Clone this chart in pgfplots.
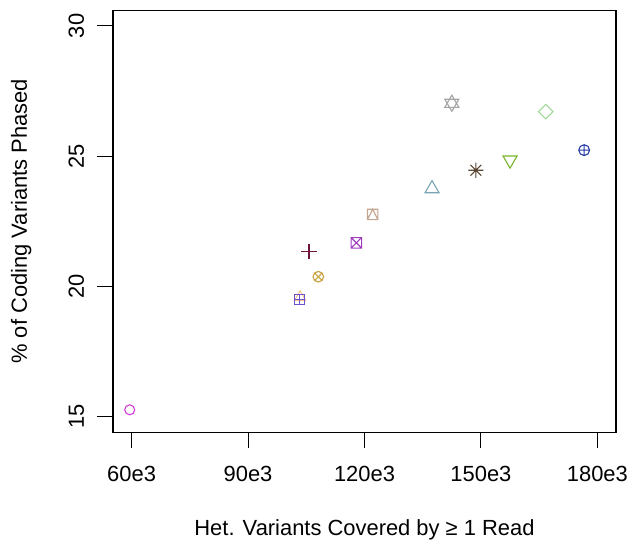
\documentclass[border=0pt]{standalone}
\usepackage{pgfplots}
\pgfplotsset{compat=1.18}
\usepackage{fontspec}
\setmainfont{Liberation Sans}

\definecolor{cMag}{RGB}{210,60,220}
\definecolor{cSqPlus}{RGB}{110,80,210}
\definecolor{cOrange}{RGB}{245,200,140}
\definecolor{cMaroon}{RGB}{110,20,60}
\definecolor{cGold}{RGB}{200,160,60}
\definecolor{cPurple}{RGB}{160,60,190}
\definecolor{cTan}{RGB}{195,165,145}
\definecolor{cTeal}{RGB}{120,165,180}
\definecolor{cGrey}{RGB}{165,165,165}
\definecolor{cBrown}{RGB}{90,70,50}
\definecolor{cGreen}{RGB}{120,180,40}
\definecolor{cLtGreen}{RGB}{160,215,150}
\definecolor{cBlue}{RGB}{40,60,170}

% R-like plotting symbols
\pgfdeclareplotmark{sqplus}{%
  \pgfpathrectangle{\pgfqpoint{-\pgfplotmarksize}{-\pgfplotmarksize}}{\pgfqpoint{2\pgfplotmarksize}{2\pgfplotmarksize}}%
  \pgfpathmoveto{\pgfqpoint{-\pgfplotmarksize}{0pt}}\pgfpathlineto{\pgfqpoint{\pgfplotmarksize}{0pt}}%
  \pgfpathmoveto{\pgfqpoint{0pt}{-\pgfplotmarksize}}\pgfpathlineto{\pgfqpoint{0pt}{\pgfplotmarksize}}%
  \pgfusepathqstroke}
\pgfdeclareplotmark{sqx}{%
  \pgfpathrectangle{\pgfqpoint{-\pgfplotmarksize}{-\pgfplotmarksize}}{\pgfqpoint{2\pgfplotmarksize}{2\pgfplotmarksize}}%
  \pgfpathmoveto{\pgfqpoint{-\pgfplotmarksize}{-\pgfplotmarksize}}\pgfpathlineto{\pgfqpoint{\pgfplotmarksize}{\pgfplotmarksize}}%
  \pgfpathmoveto{\pgfqpoint{-\pgfplotmarksize}{\pgfplotmarksize}}\pgfpathlineto{\pgfqpoint{\pgfplotmarksize}{-\pgfplotmarksize}}%
  \pgfusepathqstroke}
\pgfdeclareplotmark{sqtri}{%
  \pgfpathrectangle{\pgfqpoint{-\pgfplotmarksize}{-\pgfplotmarksize}}{\pgfqpoint{2\pgfplotmarksize}{2\pgfplotmarksize}}%
  \pgfpathmoveto{\pgfqpoint{-\pgfplotmarksize}{-\pgfplotmarksize}}\pgfpathlineto{\pgfqpoint{0pt}{\pgfplotmarksize}}%
  \pgfpathlineto{\pgfqpoint{\pgfplotmarksize}{-\pgfplotmarksize}}%
  \pgfusepathqstroke}
\pgfdeclareplotmark{utri}{%
  \pgfpathmoveto{\pgfqpoint{0pt}{\pgfplotmarksize}}%
  \pgfpathlineto{\pgfqpoint{0.866\pgfplotmarksize}{-0.5\pgfplotmarksize}}%
  \pgfpathlineto{\pgfqpoint{-0.866\pgfplotmarksize}{-0.5\pgfplotmarksize}}%
  \pgfpathclose\pgfusepathqstroke}
\pgfdeclareplotmark{dtri}{%
  \pgfpathmoveto{\pgfqpoint{0pt}{-\pgfplotmarksize}}%
  \pgfpathlineto{\pgfqpoint{0.866\pgfplotmarksize}{0.5\pgfplotmarksize}}%
  \pgfpathlineto{\pgfqpoint{-0.866\pgfplotmarksize}{0.5\pgfplotmarksize}}%
  \pgfpathclose\pgfusepathqstroke}
\pgfdeclareplotmark{david}{%
  \pgfpathmoveto{\pgfqpoint{0pt}{\pgfplotmarksize}}%
  \pgfpathlineto{\pgfqpoint{0.866\pgfplotmarksize}{-0.5\pgfplotmarksize}}%
  \pgfpathlineto{\pgfqpoint{-0.866\pgfplotmarksize}{-0.5\pgfplotmarksize}}%
  \pgfpathclose
  \pgfpathmoveto{\pgfqpoint{0pt}{-\pgfplotmarksize}}%
  \pgfpathlineto{\pgfqpoint{0.866\pgfplotmarksize}{0.5\pgfplotmarksize}}%
  \pgfpathlineto{\pgfqpoint{-0.866\pgfplotmarksize}{0.5\pgfplotmarksize}}%
  \pgfpathclose\pgfusepathqstroke}
\pgfdeclareplotmark{rdiamond}{%
  \pgfpathmoveto{\pgfqpoint{0pt}{\pgfplotmarksize}}%
  \pgfpathlineto{\pgfqpoint{\pgfplotmarksize}{0pt}}%
  \pgfpathlineto{\pgfqpoint{0pt}{-\pgfplotmarksize}}%
  \pgfpathlineto{\pgfqpoint{-\pgfplotmarksize}{0pt}}%
  \pgfpathclose\pgfusepathqstroke}
\pgfdeclareplotmark{rplus}{%
  \pgfpathmoveto{\pgfqpoint{-\pgfplotmarksize}{0pt}}\pgfpathlineto{\pgfqpoint{\pgfplotmarksize}{0pt}}%
  \pgfpathmoveto{\pgfqpoint{0pt}{-\pgfplotmarksize}}\pgfpathlineto{\pgfqpoint{0pt}{\pgfplotmarksize}}%
  \pgfusepathqstroke}
\pgfdeclareplotmark{rast}{%
  \pgfpathmoveto{\pgfqpoint{-\pgfplotmarksize}{0pt}}\pgfpathlineto{\pgfqpoint{\pgfplotmarksize}{0pt}}%
  \pgfpathmoveto{\pgfqpoint{0pt}{-\pgfplotmarksize}}\pgfpathlineto{\pgfqpoint{0pt}{\pgfplotmarksize}}%
  \pgfpathmoveto{\pgfqpoint{-0.707\pgfplotmarksize}{-0.707\pgfplotmarksize}}\pgfpathlineto{\pgfqpoint{0.707\pgfplotmarksize}{0.707\pgfplotmarksize}}%
  \pgfpathmoveto{\pgfqpoint{-0.707\pgfplotmarksize}{0.707\pgfplotmarksize}}\pgfpathlineto{\pgfqpoint{0.707\pgfplotmarksize}{-0.707\pgfplotmarksize}}%
  \pgfusepathqstroke}
\pgfdeclareplotmark{rcirc}{%
  \pgfpathcircle{\pgfpointorigin}{\pgfplotmarksize}\pgfusepathqstroke}
\pgfdeclareplotmark{rotimes}{%
  \pgfpathcircle{\pgfpointorigin}{\pgfplotmarksize}%
  \pgfpathmoveto{\pgfqpoint{-0.707\pgfplotmarksize}{-0.707\pgfplotmarksize}}\pgfpathlineto{\pgfqpoint{0.707\pgfplotmarksize}{0.707\pgfplotmarksize}}%
  \pgfpathmoveto{\pgfqpoint{-0.707\pgfplotmarksize}{0.707\pgfplotmarksize}}\pgfpathlineto{\pgfqpoint{0.707\pgfplotmarksize}{-0.707\pgfplotmarksize}}%
  \pgfusepathqstroke}
\pgfdeclareplotmark{roplus}{%
  \pgfpathcircle{\pgfpointorigin}{\pgfplotmarksize}%
  \pgfpathmoveto{\pgfqpoint{-\pgfplotmarksize}{0pt}}\pgfpathlineto{\pgfqpoint{\pgfplotmarksize}{0pt}}%
  \pgfpathmoveto{\pgfqpoint{0pt}{-\pgfplotmarksize}}\pgfpathlineto{\pgfqpoint{0pt}{\pgfplotmarksize}}%
  \pgfusepathqstroke}

\begin{document}
\begin{tikzpicture}
\begin{axis}[
  scale only axis,
  width=503bp, height=421.9bp,
  xmin=55.2, xmax=184.8, ymin=14.4, ymax=30.6,
  axis line style={line width=1.1bp, black},
  xtick={60,90,120,150,180},
  xticklabels={60e3,90e3,120e3,150e3,180e3},
  ytick={15,20,25,30},
  yticklabels={15,20,25,30},
  tick pos=left, tick align=outside,
  major tick length=16bp,
  every tick/.style={black, line width=1.1bp},
  tick label style={font=\fontsize{22}{26}\selectfont},
  label style={font=\fontsize{22}{26}\selectfont},
  xticklabel style={anchor=north, inner sep=0pt, yshift=-17.6bp},
  yticklabel style={xshift=-12.7bp, rotate=90, anchor=south, inner sep=0pt},
  xlabel={Het. Variants Covered by ≥ 1 Read},
  ylabel={\% of Coding Variants Phased},
  xlabel style={at={(axis description cs:0.5,-0.2449)}, anchor=base},
  ylabel style={at={(axis description cs:-0.171,0.5)}, anchor=base, rotate=0},
  clip=false,
  every axis plot/.append style={only marks, line width=1.1bp, mark options={solid}},
]
\addplot[cMag, mark=rcirc, mark size=5.0bp] coordinates {(59.5,15.26)};
\addplot[cOrange, mark=utri, mark size=6.6bp] coordinates {(103.4,19.58)};
\addplot[cSqPlus, mark=sqplus, mark size=5.2bp] coordinates {(103.3,19.49)};
\addplot[cMaroon, mark=rplus, mark size=7.6bp] coordinates {(105.7,21.34)};
\addplot[cGold, mark=rotimes, mark size=5.3bp] coordinates {(108.1,20.37)};
\addplot[cPurple, mark=sqx, mark size=5.2bp] coordinates {(117.9,21.67)};
\addplot[cTan, mark=sqtri, mark size=5.2bp] coordinates {(122.1,22.76)};
\addplot[cTeal, mark=utri, mark size=8.1bp] coordinates {(137.4,23.75)};
\addplot[cGrey, mark=david, mark size=8.1bp] coordinates {(142.5,27.03)};
\addplot[cBrown, mark=rast, mark size=7.6bp] coordinates {(148.7,24.46)};
\addplot[cGreen, mark=dtri, mark size=8.1bp] coordinates {(157.5,24.85)};
\addplot[cLtGreen, mark=rdiamond, mark size=7.3bp] coordinates {(166.7,26.71)};
\addplot[cBlue, mark=roplus, mark size=5.4bp] coordinates {(176.6,25.23)};
\end{axis}
\pgfresetboundingbox
\path[use as bounding box] ([xshift=-113bp,yshift=-107.8bp]current axis.south west) rectangle ([xshift=13bp,yshift=10.3bp]current axis.north east);
\end{tikzpicture}
\end{document}
